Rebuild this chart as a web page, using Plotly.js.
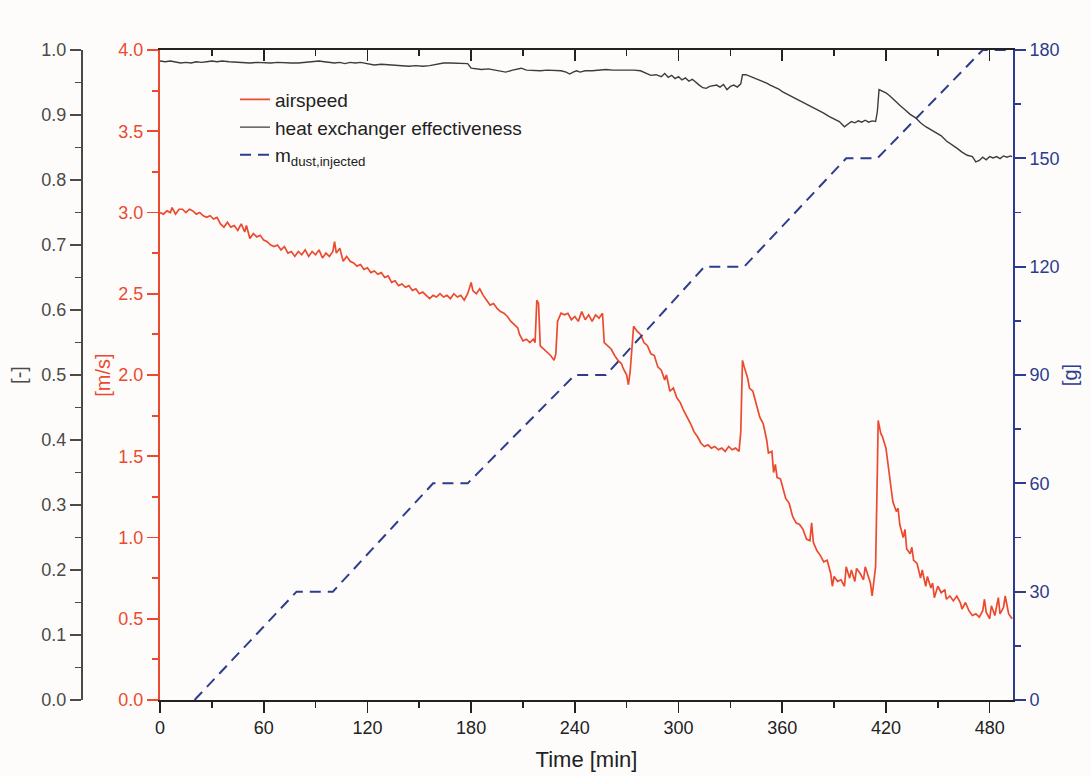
<!DOCTYPE html>
<html>
<head>
<meta charset="utf-8">
<script src="https://cdn.plot.ly/plotly-3.0.1.min.js"></script>
<style>
html,body{margin:0;padding:0;background:#fdfcfb;}
#chart{width:1091px;height:776px;}
</style>
</head>
<body>
<div id="chart"></div>
<script>
// ---- data ----
const airTime = [0,2,4,6,7,9,11,13,15,17,19,21,23,25,27,29,31,33,35,37,39,41,43,45,47,49,50,52,54,56,58,60,62,64,66,68,70,72,74,76,78,80,82,84,86,88,90,92,94,96,98,100,101,102,104,106,108,110,112,114,116,118,120,122,124,126,128,130,132,134,136,138,140,142,144,146,148,150,152,154,156,158,160,162,164,166,168,170,172,174,176,178,180,181,183,185,187,189,191,193,195,197,199,201,203,205,207,208,210,212,214,216,217,218,219,220,222,224,226,228,229,230,232,234,236,238,240,242,244,246,248,250,252,254,256,257,259,261,263,265,267,268,270,271,272,273,274,276,278,280,282,284,286,288,290,292,293,295,297,299,301,303,305,307,309,311,313,315,317,319,321,323,325,327,329,331,333,335,336,337,338,340,341,343,345,347,349,351,352,354,355,356,357,359,361,362,364,366,368,370,372,374,376,377,378,380,382,384,386,388,389,390,392,394,396,397,399,400,402,403,405,407,408,410,411,412,413,414,415,415.5,417,418,420,422,424,426,427,428,430,431,432,434,435,436,438,440,441,443,444,446,447,448,450,452,454,455,457,459,461,463,464,466,468,470,472,474,476,477,478,480,481,483,485,486,488,489,491,493];
const airspeed = [3.00,2.99,3.01,3.00,3.03,2.99,3.02,3.02,3.00,3.02,3.01,2.99,3.00,2.98,2.97,2.98,2.96,2.97,2.93,2.91,2.94,2.91,2.92,2.89,2.93,2.88,2.92,2.84,2.87,2.85,2.86,2.83,2.82,2.80,2.79,2.80,2.77,2.79,2.75,2.76,2.73,2.76,2.74,2.77,2.73,2.76,2.74,2.77,2.72,2.75,2.73,2.76,2.82,2.75,2.78,2.70,2.73,2.70,2.69,2.67,2.68,2.65,2.66,2.63,2.64,2.62,2.63,2.60,2.61,2.57,2.58,2.55,2.56,2.54,2.55,2.52,2.53,2.50,2.51,2.49,2.47,2.49,2.48,2.50,2.48,2.49,2.47,2.50,2.48,2.49,2.46,2.50,2.57,2.52,2.50,2.53,2.49,2.46,2.43,2.44,2.41,2.39,2.38,2.36,2.33,2.31,2.29,2.25,2.21,2.22,2.20,2.22,2.20,2.46,2.44,2.18,2.16,2.14,2.12,2.09,2.13,2.33,2.38,2.37,2.38,2.34,2.36,2.33,2.39,2.34,2.37,2.33,2.37,2.35,2.38,2.20,2.18,2.16,2.12,2.09,2.07,2.04,2.00,1.94,2.02,2.18,2.30,2.27,2.25,2.20,2.18,2.13,2.12,2.05,2.03,1.97,2.00,1.90,1.92,1.86,1.83,1.78,1.74,1.70,1.65,1.62,1.58,1.56,1.57,1.55,1.56,1.54,1.55,1.53,1.56,1.54,1.55,1.53,1.65,2.09,2.05,1.98,1.92,1.90,1.82,1.74,1.70,1.60,1.52,1.53,1.40,1.45,1.37,1.36,1.28,1.24,1.21,1.13,1.09,1.08,1.05,0.99,0.98,1.09,0.97,0.92,0.89,0.85,0.86,0.78,0.70,0.76,0.73,0.74,0.70,0.82,0.75,0.80,0.73,0.81,0.78,0.74,0.82,0.76,0.72,0.64,0.75,0.82,1.40,1.72,1.64,1.62,1.55,1.40,1.22,1.16,1.18,1.08,1.00,1.05,0.93,0.90,0.94,0.86,0.84,0.75,0.80,0.70,0.76,0.69,0.72,0.63,0.70,0.66,0.68,0.62,0.64,0.61,0.64,0.60,0.56,0.60,0.55,0.52,0.53,0.51,0.55,0.62,0.54,0.50,0.58,0.52,0.63,0.53,0.57,0.64,0.53,0.50];

const effTime = [0,3,6,9,12,15,18,21,24,27,30,33,36,40,44,48,52,56,60,64,68,72,76,80,84,88,92,95,98,101,104,107,110,113,116,118,120,124,128,132,136,140,144,148,152,156,160,164,168,172,176,178,180,183,186,190,194,197,200,204,207,209,212,216,220,224,228,232,235,237,239,241,243,246,250,254,258,262,266,270,274,278,281,284,287,290,292,294,296,298,300,302,304,306,308,310,312,314,316,318,320,322,324,326,328,330,332,334,336,337,339,341,343,345,347,349,351,353,356,358,360,363,366,369,372,375,378,381,384,387,390,393,396,398,400,402,404,406,408,410,412,414,415,416,418,420,422,425,428,431,434,437,440,443,446,449,452,455,458,461,464,467,470,472,474,476,478,480,482,484,486,488,490,492,493];
const effectiveness = [0.983,0.982,0.983,0.981,0.980,0.981,0.980,0.982,0.981,0.982,0.983,0.982,0.983,0.982,0.981,0.981,0.980,0.981,0.980,0.980,0.981,0.980,0.980,0.980,0.981,0.982,0.983,0.982,0.981,0.980,0.981,0.979,0.981,0.980,0.981,0.980,0.978,0.977,0.978,0.977,0.976,0.976,0.975,0.976,0.975,0.976,0.978,0.980,0.980,0.980,0.980,0.979,0.972,0.971,0.970,0.971,0.969,0.968,0.966,0.969,0.971,0.972,0.969,0.968,0.968,0.969,0.968,0.968,0.966,0.963,0.966,0.968,0.966,0.968,0.968,0.969,0.970,0.969,0.969,0.970,0.969,0.968,0.965,0.961,0.962,0.959,0.964,0.958,0.961,0.956,0.959,0.954,0.957,0.952,0.955,0.950,0.946,0.942,0.941,0.944,0.945,0.946,0.943,0.947,0.939,0.944,0.946,0.943,0.948,0.962,0.962,0.960,0.958,0.956,0.954,0.951,0.949,0.946,0.942,0.940,0.936,0.932,0.928,0.924,0.920,0.916,0.912,0.907,0.903,0.898,0.894,0.890,0.882,0.886,0.890,0.888,0.891,0.889,0.892,0.889,0.891,0.890,0.905,0.939,0.937,0.934,0.930,0.922,0.915,0.908,0.901,0.896,0.888,0.882,0.877,0.873,0.868,0.860,0.855,0.849,0.843,0.838,0.836,0.828,0.830,0.835,0.831,0.836,0.834,0.836,0.833,0.837,0.835,0.837,0.836];

const dustTime = [20,79,100,158,178,240,258,315,338,397,415,476,493];
const dustMass = [0,30,30,60,60,90,90,120,120,150,150,180,180];

const xTicks = [0,60,120,180,240,300,360,420,480];

// ---- styles ----
const RED = '#ec4a2e', GRAY = '#4a4a48', BLUE = '#2d3c8c', BLACK = '#222';
const FONT = 'Arial, "Liberation Sans", sans-serif';
const BG = '#fdfcfb';

const traces = [
  {x: airTime, y: airspeed, type: 'scatter', mode: 'lines', name: 'airspeed',
   line: {color: RED, width: 1.7}, xaxis: 'x', yaxis: 'y'},
  {x: effTime, y: effectiveness, type: 'scatter', mode: 'lines', name: 'heat exchanger effectiveness',
   line: {color: '#3c3c3a', width: 1.4}, xaxis: 'x', yaxis: 'y2'},
  {x: dustTime, y: dustMass, type: 'scatter', mode: 'lines', name: 'm<sub>dust,injected</sub>',
   line: {color: BLUE, width: 2, dash: '11px,7px'}, xaxis: 'x', yaxis: 'y3'},
  {x: [], y: [], type: 'scatter', mode: 'lines', showlegend: false, hoverinfo: 'skip', xaxis: 'x2', yaxis: 'y'}
];

const plotLeft = 82, plotRight = 1013, figW = 1091;
const xDomStart = (160 - plotLeft) / (plotRight - plotLeft);

const layout = {
  width: 1091, height: 776,
  paper_bgcolor: BG, plot_bgcolor: BG,
  margin: {l: plotLeft, r: figW - plotRight, t: 50, b: 76},
  font: {family: FONT, size: 18, color: BLACK},
  showlegend: true,
  legend: {x: (235 - plotLeft) / (plotRight - plotLeft), y: 0.953, xanchor: 'left', yanchor: 'top',
           bgcolor: 'rgba(0,0,0,0)', font: {family: FONT, size: 19, color: '#222'}, tracegroupgap: 0},
  xaxis: {
    domain: [xDomStart, 1], range: [0, 493.5], anchor: 'y',
    tickvals: xTicks, ticktext: xTicks.map(String),
    ticks: 'outside', ticklen: 11, tickwidth: 1.6, tickcolor: BLACK,
    minor: {dtick: 30, ticks: 'outside', ticklen: 6, tickwidth: 1.6, tickcolor: BLACK},
    showline: true, linecolor: BLACK, linewidth: 1.6,
    showgrid: false, zeroline: false,
    tickfont: {family: FONT, size: 18, color: BLACK},
    title: {text: 'Time [min]', font: {family: FONT, size: 22, color: BLACK}, standoff: 14}
  },
  xaxis2: {
    domain: [xDomStart, 1], range: [0, 493.5], overlaying: 'x', side: 'top', anchor: 'y',
    tickvals: xTicks, showticklabels: false,
    ticks: 'inside', ticklen: 11, tickwidth: 1.6, tickcolor: BLACK,
    minor: {dtick: 30, ticks: 'inside', ticklen: 6, tickwidth: 1.6, tickcolor: BLACK},
    showline: true, linecolor: BLACK, linewidth: 1.6,
    showgrid: false, zeroline: false
  },
  yaxis: {
    range: [0, 4.0], dtick: 0.5, tickformat: '.1f', anchor: 'x', side: 'left',
    ticks: 'outside', ticklen: 11, tickwidth: 1.8, tickcolor: RED,
    minor: {dtick: 0.25, ticks: 'outside', ticklen: 6, tickwidth: 1.8, tickcolor: RED},
    showline: true, linecolor: RED, linewidth: 2,
    showgrid: false, zeroline: false,
    tickfont: {family: FONT, size: 18, color: RED},
    title: {text: '[m/s]', font: {family: FONT, size: 20, color: RED}, standoff: 2}
  },
  yaxis2: {
    range: [0, 1.0], dtick: 0.1, tickformat: '.1f', overlaying: 'y', anchor: 'free', position: 0, side: 'left',
    ticks: 'outside', ticklen: 11, tickwidth: 1.8, tickcolor: GRAY,
    minor: {dtick: 0.05, ticks: 'outside', ticklen: 6, tickwidth: 1.8, tickcolor: GRAY},
    showline: true, linecolor: GRAY, linewidth: 2,
    showgrid: false, zeroline: false,
    tickfont: {family: FONT, size: 18, color: GRAY},
    title: {text: '[-]', font: {family: FONT, size: 20, color: GRAY}, standoff: 8}
  },
  yaxis3: {
    range: [0, 180], dtick: 30, overlaying: 'y', anchor: 'x', side: 'right',
    ticks: 'outside', ticklen: 11, tickwidth: 1.8, tickcolor: BLUE,
    minor: {dtick: 15, ticks: 'outside', ticklen: 6, tickwidth: 1.8, tickcolor: BLUE},
    showline: true, linecolor: BLUE, linewidth: 2,
    showgrid: false, zeroline: false,
    tickfont: {family: FONT, size: 18, color: BLUE},
    title: {text: '[g]', font: {family: FONT, size: 20, color: BLUE}, standoff: 4}
  }
};

Plotly.newPlot('chart', traces, layout, {displayModeBar: false, staticPlot: true});
</script>
</body>
</html>
